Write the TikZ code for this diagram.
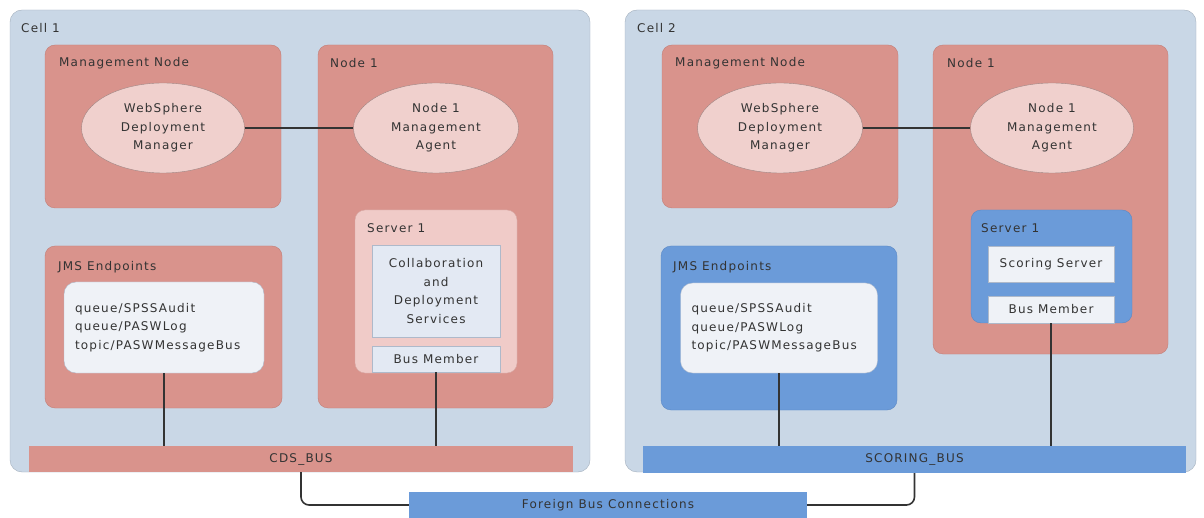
\documentclass[tikz,border=0pt]{standalone}
\usepackage{fontspec}
\setmainfont{DejaVu Sans}[LetterSpace=10]
\usetikzlibrary{shapes.geometric}
\definecolor{cellfill}{HTML}{C9D7E6}
\definecolor{celldraw}{HTML}{A3AFBD}
\definecolor{redfill}{HTML}{D9938C}
\definecolor{reddraw}{HTML}{C27E77}
\definecolor{ellfill}{HTML}{F0D0CD}
\definecolor{elldraw}{HTML}{9F8583}
\definecolor{pinkfill}{HTML}{F0CBC8}
\definecolor{pinkdraw}{HTML}{D8A8A4}
\definecolor{palefill}{HTML}{E3E9F3}
\definecolor{paledraw}{HTML}{AEB9CA}
\definecolor{whitefill}{HTML}{EFF2F7}
\definecolor{bluefill}{HTML}{6B9BD9}
\definecolor{bluedraw}{HTML}{5B88C5}
\definecolor{linkcol}{HTML}{333333}
\begin{document}
\begin{tikzpicture}[x=1pt,y=-1pt,
	every node/.style={font=\fontsize{12}{18.5}\selectfont,text=black!80},
	cellbox/.style={rectangle,rounded corners=12pt,draw=celldraw,fill=cellfill,inner sep=0pt},
	redbox/.style={rectangle,rounded corners=10pt,draw=reddraw,fill=redfill,inner sep=0pt},
	bluebox/.style={rectangle,rounded corners=10pt,draw=bluedraw,fill=bluefill,inner sep=0pt},
	pinkbox/.style={rectangle,rounded corners=10pt,draw=pinkdraw,fill=pinkfill,inner sep=0pt},
	listbox/.style={rectangle,rounded corners=12pt,draw=paledraw,fill=whitefill,align=left,inner sep=0pt},
	svcbox/.style={rectangle,draw=paledraw,fill=palefill,align=center,inner sep=0pt},
	agent/.style={ellipse,draw=elldraw,fill=ellfill,align=center,inner sep=0pt},
	bus/.style={rectangle,draw=none,inner sep=0pt},
	tag/.style={anchor=west,inner sep=0pt},
	link/.style={draw=linkcol,line width=1.6pt}]

	\useasboundingbox (0,0) rectangle (1204,518);

	\node (cell1)	at (300,241)	[cellbox,minimum width=580pt,minimum height=462pt]{};
	\node (cell2)	at (910.5,241)	[cellbox,minimum width=571pt,minimum height=462pt]{};
	\node (cell1t)	at (21,28)	[tag]{Cell 1};
	\node (cell2t)	at (637,28)	[tag]{Cell 2};

	\node (mgmt1)	at (163,126.5)	[redbox,minimum width=236pt,minimum height=163pt]{};
	\node (mgmt1t)	at (59,63)	[tag]{Management Node};
	\node (node1)	at (435.5,226.5)	[redbox,minimum width=235pt,minimum height=363pt]{};
	\node (node1t)	at (330,63)	[tag]{Node 1};
	\node (jms1)	at (163.5,327)	[redbox,minimum width=237pt,minimum height=162pt]{};
	\node (jms1t)	at (58,267)	[tag]{JMS Endpoints};
	\node (srv1)	at (436,291.5)	[pinkbox,minimum width=162pt,minimum height=163pt]{};
	\node (srv1t)	at (367,228)	[tag]{Server 1};

	\node (wdm1)	at (163,128)	[agent,minimum width=163pt,minimum height=90pt]{WebSphere\\Deployment\\Manager};
	\node (agent1)	at (436,128)	[agent,minimum width=165pt,minimum height=90pt]{Node 1\\Management\\Agent};
	\node (list1)	at (164,327.5)	[listbox,minimum width=200pt,minimum height=91pt,text width=178pt]{queue/SPSSAudit\\queue/PASWLog\\topic/PASWMessageBus};
	\node (cds)	at (436,291)	[svcbox,minimum width=128pt,minimum height=92pt]{Collaboration\\and\\Deployment\\Services};
	\node (member1)	at (436,359)	[svcbox,minimum width=128pt,minimum height=26pt]{Bus Member};
	\node (cdsbus)	at (301,459)	[bus,fill=redfill,minimum width=544pt,minimum height=26pt]{CDS\_BUS};

	\node (mgmt2)	at (780,126.5)	[redbox,minimum width=236pt,minimum height=163pt]{};
	\node (mgmt2t)	at (675,63)	[tag]{Management Node};
	\node (node2)	at (1050.5,199.5)	[redbox,minimum width=235pt,minimum height=309pt]{};
	\node (node2t)	at (947,63)	[tag]{Node 1};
	\node (jms2)	at (779,328)	[bluebox,minimum width=236pt,minimum height=164pt]{};
	\node (jms2t)	at (673,267)	[tag]{JMS Endpoints};
	\node (srv2)	at (1051.5,266.5)	[bluebox,minimum width=161pt,minimum height=113pt]{};
	\node (srv2t)	at (981,228)	[tag]{Server 1};

	\node (wdm2)	at (780,128)	[agent,minimum width=165pt,minimum height=90pt]{WebSphere\\Deployment\\Manager};
	\node (agent2)	at (1052,128)	[agent,minimum width=163pt,minimum height=90pt]{Node 1\\Management\\Agent};
	\node (list2)	at (779,328)	[listbox,minimum width=197pt,minimum height=90pt,text width=175pt]{queue/SPSSAudit\\queue/PASWLog\\topic/PASWMessageBus};
	\node (scoring)	at (1051,264)	[svcbox,fill=whitefill,minimum width=126pt,minimum height=36pt]{Scoring Server};
	\node (member2)	at (1051,309.5)	[svcbox,fill=whitefill,minimum width=126pt,minimum height=27pt]{Bus Member};
	\node (scorebus)	at (914.5,459.5)	[bus,fill=bluefill,minimum width=543pt,minimum height=27pt]{SCORING\_BUS};

	\node (foreign)	at (608,505)	[bus,fill=bluefill,minimum width=398pt,minimum height=26pt]{Foreign Bus Connections};

	\draw[link] (wdm1) to (agent1);
	\draw[link] (wdm2) to (agent2);
	\draw[link] (list1.south) to (list1.south |- cdsbus.north);
	\draw[link] (member1.south) to (member1.south |- cdsbus.north);
	\draw[link] (list2.south) to (list2.south |- scorebus.north);
	\draw[link] (member2.south) to (member2.south |- scorebus.north);
	\draw[link,rounded corners=8pt] (cdsbus.south) |- (foreign.west);
	\draw[link,rounded corners=8pt] (scorebus.south) |- (foreign.east);

\end{tikzpicture}
\end{document}
